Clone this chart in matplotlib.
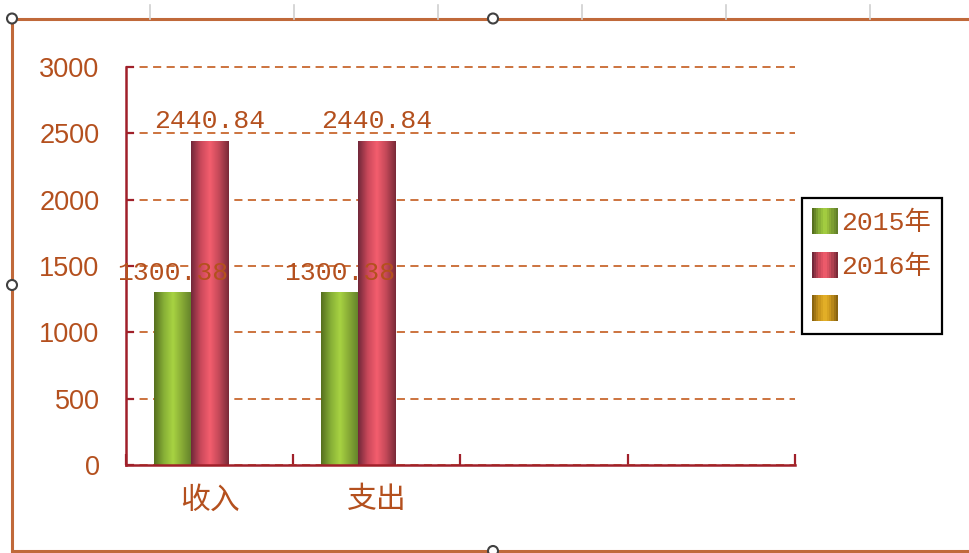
import matplotlib
matplotlib.use('Agg')
import matplotlib.pyplot as plt
import numpy as np
from matplotlib.colors import LinearSegmentedColormap
from matplotlib.legend_handler import HandlerBase
from matplotlib.patches import Rectangle, Circle
from matplotlib.lines import Line2D

categories = ['收入', '支出', '', '']
series_names = ['2015年', '2016年', '']
values_2015 = [1300.38, 1300.38, np.nan, np.nan]
values_2016 = [2440.84, 2440.84, np.nan, np.nan]
values_3 = [np.nan, np.nan, np.nan, np.nan]
yticks = [0, 500, 1000, 1500, 2000, 2500, 3000]

TEXT = '#B4501E'
AXIS = '#A0202A'
GRID = '#C8682F'
FRAME = '#C0693A'

# cylinder-like horizontal gradients (dark edge, light middle, dark edge)
grads = [
    ['#56701F', '#86AE36', '#A8D342', '#86A935', '#62802A'],
    ['#72283A', '#C9485A', '#F45E6E', '#C24858', '#7A2A38'],
    ['#8A6410', '#C8941C', '#E8B42A', '#C8941C', '#8A6410'],
]
cmaps = [LinearSegmentedColormap.from_list(f'g{i}', c) for i, c in enumerate(grads)]
all_values = [values_2015, values_2016, values_3]

W, H = 969, 553
fig = plt.figure(figsize=(W / 100, H / 100), dpi=100)
ax = fig.add_axes([126 / W, 1 - 465 / H, (795 - 126) / W, (465 - 67) / H])

x = np.arange(len(categories))
width = 1 / 4.5
grad = np.linspace(0, 1, 64).reshape(1, -1)

for i, (vals, cm) in enumerate(zip(all_values, cmaps)):
    bars = ax.bar(x + (i - 1) * width, np.nan_to_num(vals), width,
                  color='none', edgecolor='none', zorder=2)
    for b, v in zip(bars, vals):
        if np.isnan(v):
            continue
        x0, x1 = b.get_x(), b.get_x() + b.get_width()
        ax.imshow(grad, cmap=cm, aspect='auto', extent=(x0, x1, 0, v),
                  zorder=2, interpolation='bilinear')
        ax.text((x0 + x1) / 2, v + 60, f'{v:.2f}', ha='center', va='bottom',
                fontsize=19, family=['Liberation Mono'], color=TEXT, zorder=4)

ax.set_xlim(-0.5, len(categories) - 0.5)
ax.set_ylim(0, 3000)
ax.set_yticks(yticks)
ax.set_yticklabels([str(t) for t in yticks], family=['Liberation Sans'],
                   fontsize=19.5, color=TEXT)
ax.yaxis.grid(True, linestyle=(0, (4.5, 3)), color=GRID, linewidth=1.3, zorder=1)
ax.set_axisbelow(True)
for gl in ax.get_ygridlines():
    gl.set_clip_on(False)

# ticks at category boundaries, labels at centers
ax.set_xticks(np.arange(len(categories) + 1) - 0.5)
ax.set_xticklabels([])
ax.set_xticks(x, minor=True)
ax.set_xticklabels(categories, minor=True, family=['Noto Sans CJK SC'],
                   fontsize=21.5, color=TEXT)
ax.tick_params(axis='x', which='major', direction='in', length=8, width=1.6, color=AXIS)
ax.tick_params(axis='x', which='minor', length=0, pad=14)
ax.tick_params(axis='y', direction='in', length=6, width=1.6, color=AXIS, pad=19)

for s in ['top', 'right']:
    ax.spines[s].set_visible(False)
for s in ['left', 'bottom']:
    ax.spines[s].set_color(AXIS)
    ax.spines[s].set_linewidth(1.8)


class GradHandler(HandlerBase):
    def __init__(self, cmap):
        super().__init__()
        self.cmap = cmap

    def create_artists(self, legend, orig_handle, xdescent, ydescent,
                       width, height, fontsize, trans):
        n = 12
        side = height * 1.1
        x0 = xdescent * -1 + (width - side) / 2
        y0 = -ydescent + (height - side) / 2
        arts = []
        for k in range(n):
            arts.append(Rectangle((x0 + k * side / n, y0), side / n + 0.3, side,
                                  facecolor=self.cmap(k / (n - 1)), edgecolor='none',
                                  transform=trans))
        return arts


handles = [Rectangle((0, 0), 1, 1) for _ in series_names]
leg = ax.legend(handles, series_names,
                handler_map={h: GradHandler(cm) for h, cm in zip(handles, cmaps)},
                loc='upper left', bbox_to_anchor=(802 / W, 1 - 198 / H),
                bbox_transform=fig.transFigure, borderaxespad=0,
                prop={'family': ['Liberation Mono', 'Noto Sans CJK SC'], 'size': 19},
                handlelength=0.9, handleheight=1.0, handletextpad=0.15,
                labelspacing=0.68, borderpad=0.42, fancybox=False,
                frameon=True, edgecolor='black', framealpha=1)
leg.get_frame().set_linewidth(1.6)
for t in leg.get_texts():
    t.set_color(TEXT)

# chart frame as seen in the spreadsheet
fx0, fy_top, fy_bot = 12 / W, 1 - 18.5 / H, 1 - 551 / H
for xs, ys in [([fx0, 1], [fy_top, fy_top]), ([fx0, fx0], [fy_top, fy_bot]),
               ([fx0, 1], [fy_bot, fy_bot])]:
    fig.add_artist(Line2D(xs, ys, color=FRAME, linewidth=2.2, transform=fig.transFigure))
for gx in [150, 294, 438, 582, 726, 870]:
    fig.add_artist(Line2D([gx / W, gx / W], [1 - 5 / H, fy_top], color='#D0D0D0',
                          linewidth=1.2, transform=fig.transFigure))
for hx, hy in [(12, 18.5), (493, 18.5), (12, 285), (493, 551)]:
    fig.add_artist(Circle((hx, H - hy), 5, facecolor='white', edgecolor='#404040',
                          linewidth=1.5, transform=None, zorder=10))

fig.savefig('out.png', dpi=100)
